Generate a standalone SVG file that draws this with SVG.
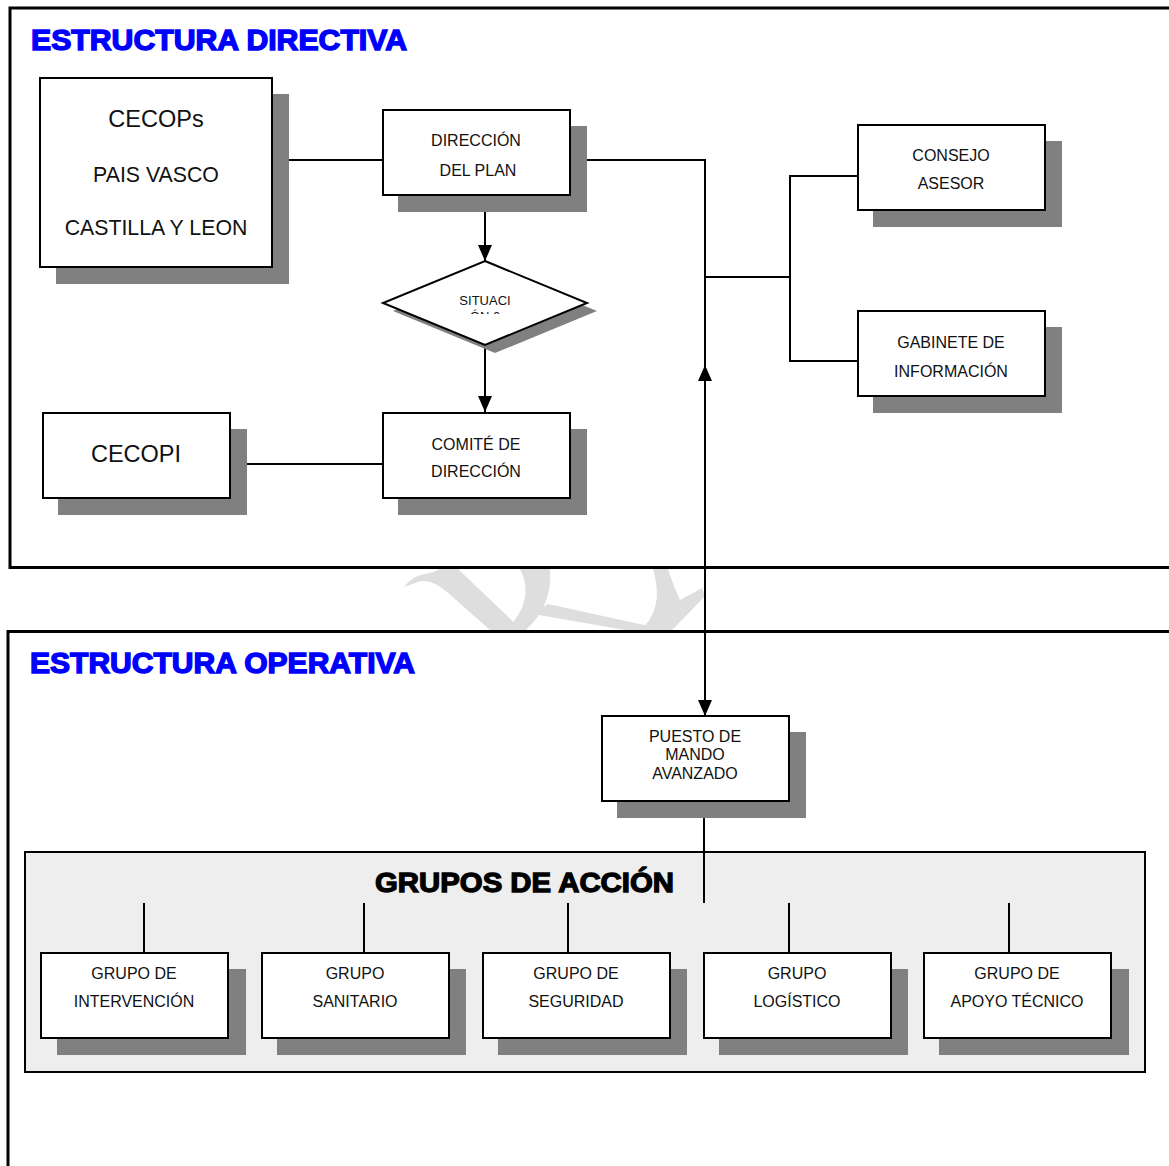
<svg xmlns="http://www.w3.org/2000/svg" width="1169" height="1166" viewBox="0 0 1169 1166">
<style>
  .frame { fill: none; stroke: #000; stroke-width: 3; }
  .box { fill: #fff; stroke: #000; stroke-width: 2; }
  .shadow { fill: #808080; }
  .wire { fill: none; stroke: #000; stroke-width: 2; }
  .t { font-family: "Liberation Sans", Arial, sans-serif; fill: #111; text-anchor: middle; }
  .t16 { font-size: 16px; }
  .t21 { font-size: 21.3px; }
  .t23 { font-size: 23.5px; }
  .title { font-family: "Liberation Sans", Arial, sans-serif; font-weight: bold; font-size: 29px; fill: #0000ff; stroke: #0000ff; stroke-width: 1.4; }
  .wm { fill: #dedede; }
</style>
<defs>
  <marker id="arrow" viewBox="0 0 16 14" refX="16" refY="7" markerWidth="16" markerHeight="14" markerUnits="userSpaceOnUse" orient="auto-start-reverse">
    <path d="M0,0 L16,7 L0,14 Z" fill="#000"/>
  </marker>
  <clipPath id="gap"><rect x="0" y="569" width="1169" height="61"/></clipPath>
  <clipPath id="sitclip"><rect x="380" y="290" width="210" height="24"/></clipPath>
</defs>
<rect x="0" y="0" width="1169" height="1166" fill="#fff"/>

<g id="watermark" clip-path="url(#gap)">
  <path class="wm" d="M440,569 L458,569 L522,630 L490,630 L447,592 Q430,578 418,582 L404,587 Q412,576 425,574 Q433,573 440,569 Z"/>
  <path class="wm" d="M520,569 L550,569 Q553,605 526,630 L506,630 Q536,600 520,569 Z"/>
  <path class="wm" d="M548,604 L667,630 L625,630 L533,614 Z"/>
  <path class="wm" d="M653,569 L668,569 Q675,590 680,600 L702,588 L705,596 Q690,612 672,630 L640,630 Q665,610 653,569 Z"/>
</g>

<g id="frames">
  <rect class="frame" x="10" y="8" width="1200" height="559.5"/>
  <rect class="frame" x="8" y="631.5" width="1200" height="600"/>
  <rect x="25" y="852" width="1120" height="220" fill="#eeeeee" stroke="#000" stroke-width="2"/>
</g>

<g id="titles">
  <text class="title" x="31" y="50" textLength="376" lengthAdjust="spacingAndGlyphs">ESTRUCTURA DIRECTIVA</text>
  <text class="title" x="30" y="673" textLength="385" lengthAdjust="spacingAndGlyphs">ESTRUCTURA OPERATIVA</text>
  <text x="375" y="892" font-family="'Liberation Sans', Arial, sans-serif" font-weight="bold" font-size="28" fill="#000" stroke="#000" stroke-width="1.3" textLength="299" lengthAdjust="spacingAndGlyphs">GRUPOS DE ACCIÓN</text>
</g>

<g id="connectors">
  <path class="wire" d="M272,160 H383"/>
  <path class="wire" d="M570,160 H705 V372"/>
  <path class="wire" d="M705,277 H790"/>
  <path class="wire" d="M858,176 H790 V361 H858"/>
  <path class="wire" d="M230,464 H383"/>
  <path class="wire" d="M485,196 V261" marker-end="url(#arrow)"/>
  <path class="wire" d="M485,346 V412" marker-end="url(#arrow)"/>
  <path class="wire" d="M705,365 V716" marker-start="url(#arrow)" marker-end="url(#arrow)"/>
  <path class="wire" d="M704,817 V903"/>
  <path class="wire" d="M144,903 V953"/>
  <path class="wire" d="M364,903 V953"/>
  <path class="wire" d="M568,903 V953"/>
  <path class="wire" d="M789,903 V953"/>
  <path class="wire" d="M1009,903 V953"/>
</g>

<g id="cecops">
  <rect class="shadow" x="56" y="94" width="233" height="190"/>
  <rect class="box" x="40" y="78" width="232" height="189"/>
  <text class="t t23" x="156" y="127">CECOPs</text>
  <text class="t t21" x="156" y="182">PAIS VASCO</text>
  <text class="t t21" x="156" y="235">CASTILLA Y LEON</text>
</g>

<g id="direccion-plan">
  <rect class="shadow" x="398" y="126" width="189" height="86"/>
  <rect class="box" x="383" y="110" width="187" height="85"/>
  <text class="t t16" x="476" y="146">DIRECCIÓN</text>
  <text class="t t16" x="478" y="176">DEL PLAN</text>
</g>

<g id="situacion">
  <polygon class="shadow" points="495,269 597,311 495,353 393,311"/>
  <polygon points="485,261 587,303 485,345 383,303" fill="#fff" stroke="#000" stroke-width="2"/>
  <text class="t" font-size="13" x="485" y="305">SITUACI</text>
  <text class="t" font-size="13" x="485" y="321" clip-path="url(#sitclip)">ÓN 0</text>
</g>

<g id="comite">
  <rect class="shadow" x="398" y="429" width="189" height="86"/>
  <rect class="box" x="383" y="413" width="187" height="85"/>
  <text class="t t16" x="476" y="450">COMITÉ DE</text>
  <text class="t t16" x="476" y="477">DIRECCIÓN</text>
</g>

<g id="cecopi">
  <rect class="shadow" x="58" y="429" width="189" height="86"/>
  <rect class="box" x="43" y="413" width="187" height="85"/>
  <text class="t t23" x="136" y="462">CECOPI</text>
</g>

<g id="consejo">
  <rect class="shadow" x="873" y="141" width="189" height="86"/>
  <rect class="box" x="858" y="125" width="187" height="85"/>
  <text class="t t16" x="951" y="161">CONSEJO</text>
  <text class="t t16" x="951" y="189">ASESOR</text>
</g>

<g id="gabinete">
  <rect class="shadow" x="873" y="327" width="189" height="86"/>
  <rect class="box" x="858" y="311" width="187" height="85"/>
  <text class="t t16" x="951" y="348">GABINETE DE</text>
  <text class="t t16" x="951" y="377">INFORMACIÓN</text>
</g>

<g id="pma">
  <rect class="shadow" x="617" y="732" width="189" height="86"/>
  <rect class="box" x="602" y="716" width="187" height="85"/>
  <text class="t t16" x="695" y="742">PUESTO DE</text>
  <text class="t t16" x="695" y="760">MANDO</text>
  <text class="t t16" x="695" y="779">AVANZADO</text>
</g>

<g id="g-intervencion">
  <rect class="shadow" x="57" y="969" width="189" height="86"/>
  <rect class="box" x="41" y="953" width="187" height="85"/>
  <text class="t t16" x="134" y="979">GRUPO DE</text>
  <text class="t t16" x="134" y="1007">INTERVENCIÓN</text>
</g>

<g id="g-sanitario">
  <rect class="shadow" x="277" y="969" width="189" height="86"/>
  <rect class="box" x="262" y="953" width="187" height="85"/>
  <text class="t t16" x="355" y="979">GRUPO</text>
  <text class="t t16" x="355" y="1007">SANITARIO</text>
</g>

<g id="g-seguridad">
  <rect class="shadow" x="498" y="969" width="189" height="86"/>
  <rect class="box" x="483" y="953" width="187" height="85"/>
  <text class="t t16" x="576" y="979">GRUPO DE</text>
  <text class="t t16" x="576" y="1007">SEGURIDAD</text>
</g>

<g id="g-logistico">
  <rect class="shadow" x="719" y="969" width="189" height="86"/>
  <rect class="box" x="704" y="953" width="187" height="85"/>
  <text class="t t16" x="797" y="979">GRUPO</text>
  <text class="t t16" x="797" y="1007">LOGÍSTICO</text>
</g>

<g id="g-apoyo">
  <rect class="shadow" x="939" y="969" width="190" height="86"/>
  <rect class="box" x="924" y="953" width="187" height="85"/>
  <text class="t t16" x="1017" y="979">GRUPO DE</text>
  <text class="t t16" x="1017" y="1007">APOYO TÉCNICO</text>
</g>
</svg>
